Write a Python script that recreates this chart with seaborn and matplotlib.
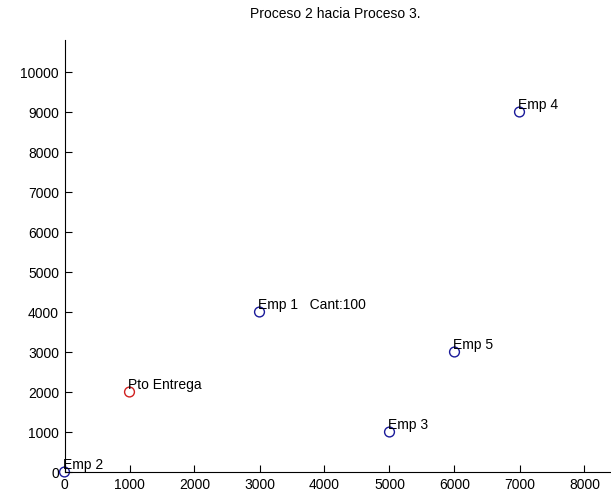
import matplotlib
matplotlib.use("Agg")
import matplotlib.pyplot as plt
import seaborn as sns
import pandas as pd

labels = ["Emp 1   Cant:100", "Emp 2", "Emp 3", "Emp 4", "Emp 5", "Pto Entrega"]
x_vals = [3000, 0, 5000, 7000, 6000, 1000]
y_vals = [4000, 0, 1000, 9000, 3000, 2000]
kinds = ["emp", "emp", "emp", "emp", "emp", "entrega"]
title = "Proceso 2 hacia Proceso 3."

df = pd.DataFrame({"x": x_vals, "y": y_vals, "label": labels, "kind": kinds})

sns.set_style("white")
plt.rcParams["font.family"] = ["Liberation Sans", "DejaVu Sans"]
plt.rcParams["text.color"] = "black"

fig = plt.figure(figsize=(6.11, 4.96), dpi=100)
ax = fig.add_axes([64.5 / 611, 24 / 496, (611 - 64.5) / 611, (496 - 24 - 40) / 496])

palette = {"emp": "#1a1a9a", "entrega": "#d02020"}
sns.scatterplot(data=df, x="x", y="y", hue="kind", palette=palette, ax=ax,
                s=50, marker="o", legend=False, linewidth=1.0)
# make markers hollow
for coll in ax.collections:
    fc = coll.get_facecolors()
    coll.set_edgecolors(fc)
    coll.set_facecolors("none")

for _, r in df.iterrows():
    ax.annotate(r["label"], (r["x"], r["y"]), xytext=(-1, 0), textcoords="offset points",
                ha="left", va="bottom", fontsize=10, color="black")

ax.set_xlim(0, (611 - 64.5) / 65.0 * 1000)
ax.set_ylim(0, 10800)
ax.set_xticks(range(0, 9000, 1000))
ax.set_yticks(range(0, 11000, 1000))
ax.set_xlabel("")
ax.set_ylabel("")
ax.tick_params(direction="in", length=5, width=0.8, labelsize=10, colors="black",
               left=True, bottom=True, pad=4)
for side in ["top", "right"]:
    ax.spines[side].set_visible(False)
for side in ["left", "bottom"]:
    ax.spines[side].set_color("black")
    ax.spines[side].set_linewidth(0.8)
for c in ax.collections:
    c.set_clip_on(False)

fig.text(335 / 611, 1 - 14 / 496, title, ha="center", va="center", fontsize=10, color="black")

fig.savefig("out.png", dpi=100)
